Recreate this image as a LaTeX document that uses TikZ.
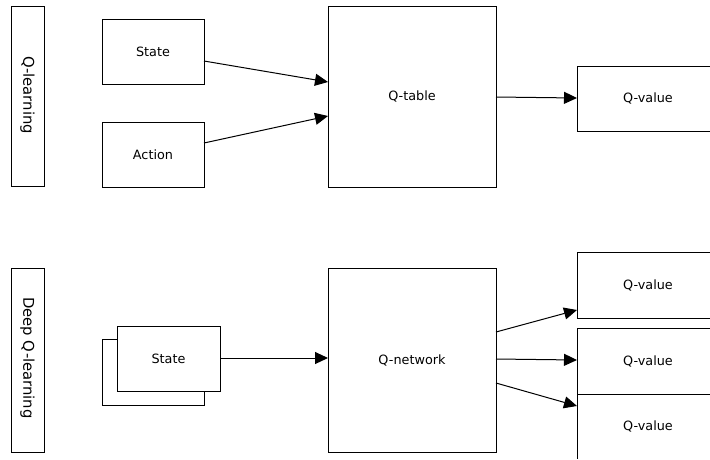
\documentclass[tikz,border=0pt]{standalone}
\usepackage{fontspec}
\setmainfont{DejaVu Sans}
\usetikzlibrary{arrows.meta}
\begin{document}
\begin{tikzpicture}[x=1pt,y=-1pt,
  txt/.style={font=\fontsize{12.8}{15}\selectfont},
  side/.style={font=\fontsize{14.8}{17}\selectfont,rotate=-90},
  box/.style={draw=black,line width=1pt,fill=white,inner sep=0pt,txt},
  conn/.style={draw=black,line width=1pt,-{Triangle[length=13pt,width=12pt]}}]
\useasboundingbox (0,0) rectangle (710,459);
% side labels
\draw[line width=1pt] (11,6) rectangle (44,186);
\node[side] (lq) at (27.5,95) {Q-learning};
\draw[line width=1pt] (11,268) rectangle (44,452);
\node[side] (ldq) at (27.5,358) {Deep Q-learning};
% Q-learning row
\draw[box] (102,19) rectangle (204,84) node[midway] (state) {State};
\draw[box] (102,122) rectangle (204,187) node[midway] (action) {Action};
\draw[box] (328,6) rectangle (496,187) node[midway] (qtable) {Q-table};
\draw[box] (715,66) -- (577,66) -- (577,131) -- (715,131);
\node[txt] (qv1) at (648,98.5) {Q-value};
\coordinate (s1) at (204,61);
\coordinate (t1) at (328,82);
\coordinate (a1) at (204,143);
\coordinate (t2) at (328,116);
\coordinate (t3) at (496,97);
\coordinate (v1) at (577,98);
\draw[conn] (s1) -- (t1);
\draw[conn] (a1) -- (t2);
\draw[conn] (t3) -- (v1);
% Deep Q-learning row
\draw[box] (102,339) rectangle (204,405);
\draw[box] (117,326) rectangle (220,391) node[midway] (dstate) {State};
\draw[box] (328,268) rectangle (496,452) node[midway] (qnet) {Q-network};
\draw[box] (715,252) -- (577,252) -- (577,318) -- (715,318);
\draw[box] (715,328) -- (577,328) -- (577,459) (577,394) -- (715,394);
\draw[line width=1pt] (715,328) -- (577,328);
\node[txt] (qv2) at (648,285) {Q-value};
\node[txt] (qv3) at (648,361) {Q-value};
\node[txt] (qv4) at (648,426) {Q-value};
\coordinate (d1) at (220,358);
\coordinate (n1) at (328,358);
\coordinate (o1) at (496,332);
\coordinate (o2) at (496,359);
\coordinate (o3) at (496,383);
\coordinate (e1) at (577,310);
\coordinate (e2) at (577,360);
\coordinate (e3) at (577,406);
\draw[conn] (d1) -- (n1);
\draw[conn] (o1) -- (e1);
\draw[conn] (o2) -- (e2);
\draw[conn] (o3) -- (e3);
\end{tikzpicture}
\end{document}
